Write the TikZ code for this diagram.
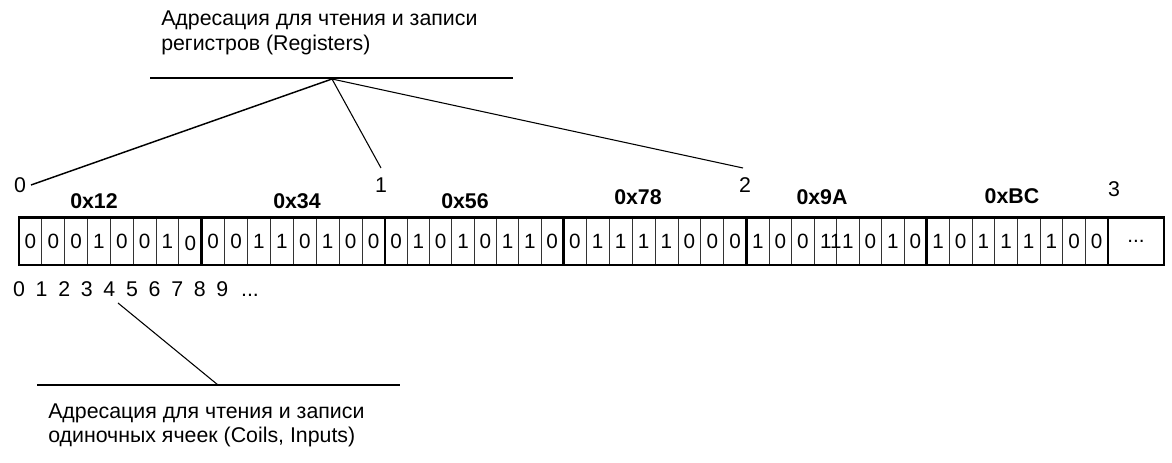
\documentclass[tikz,border=0pt]{standalone}
\usepackage{fontspec}
\setmainfont{Liberation Sans}
\begin{document}
\begin{tikzpicture}[x=0.75pt,y=-0.75pt,
  txt/.style={font=\fontsize{16}{19}\selectfont, inner sep=0pt, anchor=base west},
  num/.style={font=\fontsize{16}{19}\selectfont, inner sep=0pt, anchor=base},
  hex/.style={font=\bfseries\fontsize{16}{19}\selectfont, inner sep=0pt, anchor=base},
  bitcell/.style={draw=black!80, line width=0.6pt, minimum height=35.6pt, inner sep=0pt,
    font=\fontsize{15.5}{18}\selectfont},
  bittext/.style={font=\fontsize{15.5}{18}\selectfont, inner sep=0pt},
  byteline/.style={line width=2.2pt},
  hline/.style={line width=1.5pt},
  diag/.style={line width=0.8pt},
]
\useasboundingbox (0,0) rectangle (1172,463);

% header texts
\node[txt] (top1) at (161,26) {Адресация для чтения и записи};
\node[txt] (top2) at (161,51) {регистров (Registers)};
\node[txt] (bot1) at (48,419) {Адресация для чтения и записи};
\node[txt] (bot2) at (48,443) {одиночных ячеек (Coils, Inputs)};

% register addresses
\node[num] (r0) at (20,193) {0};
\node[num] (r1) at (381,193) {1};
\node[num] (r2) at (745,193) {2};
\node[num] (r3) at (1114,197) {3};

% hex labels
\node[hex] (h1) at (94,209) {0x12};
\node[hex] (h2) at (297,209) {0x34};
\node[hex] (h3) at (465,209) {0x56};
\node[hex] (h4) at (638,205) {0x78};
\node[hex] (h5) at (822,205) {0x9A};
\node[hex] (h6) at (1012,203.5) {0xBC};

% bit cells
\foreach \l/\r/\bits [count=\k] in {
  19/201.7/{0,0,0,1,0,0,1,s},
  201.7/385/{0,0,1,1,0,1,0,0},
  385/563.3/{0,1,0,1,0,1,1,0},
  563.3/746.7/{0,1,1,1,1,0,0,0},
  746.7/926.7/{1,0,0,s,1,0,1,0},
  926.7/1108/{1,0,1,1,1,1,0,0}} {
  \pgfmathsetmacro\w{(\r-\l)/8}
  \foreach \v [count=\i from 0] in \bits {
    \if s\v
      \node[bitcell, minimum width=\w*0.75pt] (c\k-\i) at ({\l+(\i+0.5)*\w},241) {};
    \else
      \node[bitcell, minimum width=\w*0.75pt] (c\k-\i) at ({\l+(\i+0.5)*\w},241) {\v};
    \fi
  }
}
\node[bittext] (s1) at ([yshift=-1.5pt]c1-7.center) {0};
\node[bittext] (s2) at ([xshift=4pt]c5-3.center) {11};
\node[bitcell, minimum width=42pt] (more) at (1136,241) {...};

% thick byte outlines
\foreach \l/\r in {19/201.7,201.7/385,385/563.3,563.3/746.7,746.7/926.7,926.7/1108,1108/1164}
  \draw[byteline] (\l,217.5) rectangle (\r,265);

% coil indices
\foreach \d [count=\i from 0] in {0,1,2,3,4,5,6,7,8,9}
  \node[num] (i\d) at ({19+22.6*\i},297) {\d};
\node[num] (idots) at (250,297) {...};

% top connectors
\coordinate (tl) at (150,78);
\coordinate (tr) at (513,78);
\coordinate (apex) at (332,79);
\coordinate (e0) at (31,185);
\coordinate (e1) at (381,168);
\coordinate (e2) at (743,168);
\draw[hline] (tl) -- (tr);
\draw[line width=1.1pt] (apex) -- (e0);
\draw[diag] (apex) -- (e1);
\draw[diag] (apex) -- (e2);

% bottom connector
\coordinate (bl) at (37,385);
\coordinate (br) at (400,385);
\coordinate (bs) at (118,303);
\coordinate (be) at (218,385);
\draw[hline] (bl) -- (br);
\draw[diag] (bs) -- (be);
\end{tikzpicture}
\end{document}
